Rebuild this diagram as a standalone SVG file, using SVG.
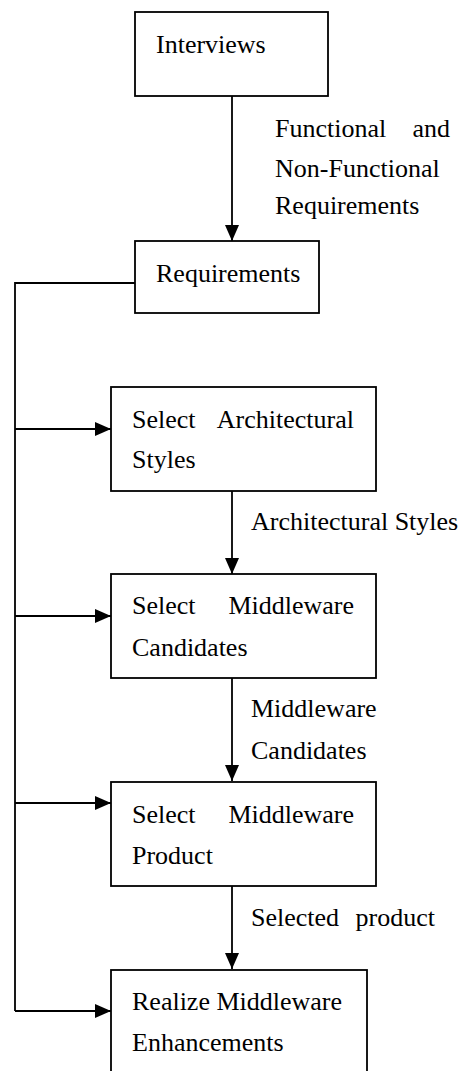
<svg xmlns="http://www.w3.org/2000/svg" width="466" height="1071" viewBox="0 0 466 1071">
<defs>
<marker id="ah" markerWidth="16" markerHeight="14" refX="16" refY="7" orient="auto" markerUnits="userSpaceOnUse">
<path d="M0,0 L16,7 L0,14 Z" fill="#000"/>
</marker>
</defs>
<style>
.box{fill:#fff;stroke:#000;stroke-width:1.8}
.t{font-family:"Liberation Serif","Times New Roman",serif;font-size:26px;fill:#000}
.c{fill:none;stroke:#000;stroke-width:1.8}
.ca{fill:none;stroke:#000;stroke-width:1.8;marker-end:url(#ah)}
</style>
<rect width="466" height="1071" fill="#fff"/>
<g id="connectors">
<line class="ca" x1="232" y1="96" x2="232" y2="241"/>
<polyline class="c" points="135,283 15,283 15,1011"/>
<line class="ca" x1="15" y1="429" x2="111" y2="429"/>
<line class="ca" x1="15" y1="616" x2="111" y2="616"/>
<line class="ca" x1="15" y1="803" x2="111" y2="803"/>
<line class="ca" x1="15" y1="1011" x2="111" y2="1011"/>
<line class="ca" x1="232" y1="491" x2="232" y2="574"/>
<line class="ca" x1="232" y1="678" x2="232" y2="781"/>
<line class="ca" x1="232" y1="886" x2="232" y2="969"/>
<text class="t" x="275" y="137">Functional</text>
<text class="t" x="450" y="137" text-anchor="end">and</text>
<text class="t" x="275" y="177">Non-Functional</text>
<text class="t" x="275" y="214">Requirements</text>
<text class="t" x="251" y="530">Architectural Styles</text>
<text class="t" x="251" y="717">Middleware</text>
<text class="t" x="251" y="759">Candidates</text>
<text class="t" x="251" y="926">Selected</text>
<text class="t" x="435" y="926" text-anchor="end">product</text>
</g>
<g id="interviews">
<rect class="box" x="135" y="12" width="193" height="84"/>
<text class="t" x="156" y="53">Interviews</text>
</g>
<g id="requirements">
<rect class="box" x="135" y="241" width="184" height="72"/>
<text class="t" x="156" y="282">Requirements</text>
</g>
<g id="select-arch">
<rect class="box" x="111" y="387" width="265" height="104"/>
<text class="t" x="132" y="428">Select</text>
<text class="t" x="354" y="428" text-anchor="end">Architectural</text>
<text class="t" x="132" y="468">Styles</text>
</g>
<g id="select-candidates">
<rect class="box" x="111" y="574" width="265" height="104"/>
<text class="t" x="132" y="614">Select</text>
<text class="t" x="354" y="614" text-anchor="end">Middleware</text>
<text class="t" x="132" y="656">Candidates</text>
</g>
<g id="select-product">
<rect class="box" x="111" y="782" width="265" height="104"/>
<text class="t" x="132" y="823">Select</text>
<text class="t" x="354" y="823" text-anchor="end">Middleware</text>
<text class="t" x="132" y="864">Product</text>
</g>
<g id="realize">
<rect class="box" x="111" y="970" width="256" height="120"/>
<text class="t" x="132" y="1010">Realize Middleware</text>
<text class="t" x="132" y="1051">Enhancements</text>
</g>
</svg>
